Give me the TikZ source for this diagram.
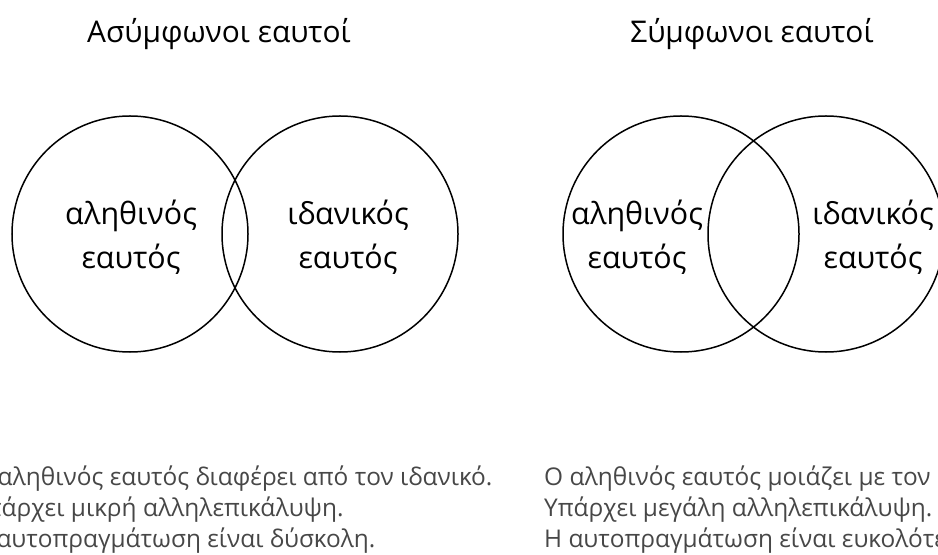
\documentclass[tikz,border=0pt]{standalone}
\usepackage{fontspec}
\setmainfont{Open Sans}
\begin{document}
\begin{tikzpicture}[x=1bp,y=-1bp,
  vcircle/.style={circle,draw=black,line width=1.5bp,minimum size=236bp,inner sep=0pt},
  titletext/.style={font=\fontsize{30}{36}\selectfont,text=black,anchor=base},
  labeltext/.style={font=\fontsize{30.5}{44}\selectfont,text=black,align=center,anchor=center},
  desctext/.style={font=\fontsize{24.5}{31}\selectfont,text=black!72,align=left,anchor=base west,inner sep=0pt}]
\useasboundingbox (0,0) rectangle (938,555);
% titles
\node[titletext] (t1) at (219,43) {Ασύμφωνοι εαυτοί};
\node[titletext] (t2) at (752,43) {Σύμφωνοι εαυτοί};
% circles
\node[vcircle] (real1) at (130,234) {};
\node[vcircle] (ideal1) at (340,234) {};
\node[vcircle] (real2) at (681,234) {};
\node[vcircle] (ideal2) at (826,234) {};
% labels
\node[labeltext] (lr1) at (131,237) {αληθινός\\εαυτός};
\node[labeltext] (li1) at (348,237) {ιδανικός\\εαυτός};
\node[labeltext] (lr2) at (637,237) {αληθινός\\εαυτός};
\node[labeltext] (li2) at (873,237) {ιδανικός\\εαυτός};
% descriptions
\node[desctext] (d1) at (-28,547) {Ο αληθινός εαυτός διαφέρει από τον ιδανικό.\\Υπάρχει μικρή αλληλεπικάλυψη.\\Η αυτοπραγμάτωση είναι δύσκολη.};
\node[desctext] (d2) at (544,547) {Ο αληθινός εαυτός μοιάζει με τον ιδανικό.\\Υπάρχει μεγάλη αλληλεπικάλυψη.\\Η αυτοπραγμάτωση είναι ευκολότερη.};
\end{tikzpicture}
\end{document}
